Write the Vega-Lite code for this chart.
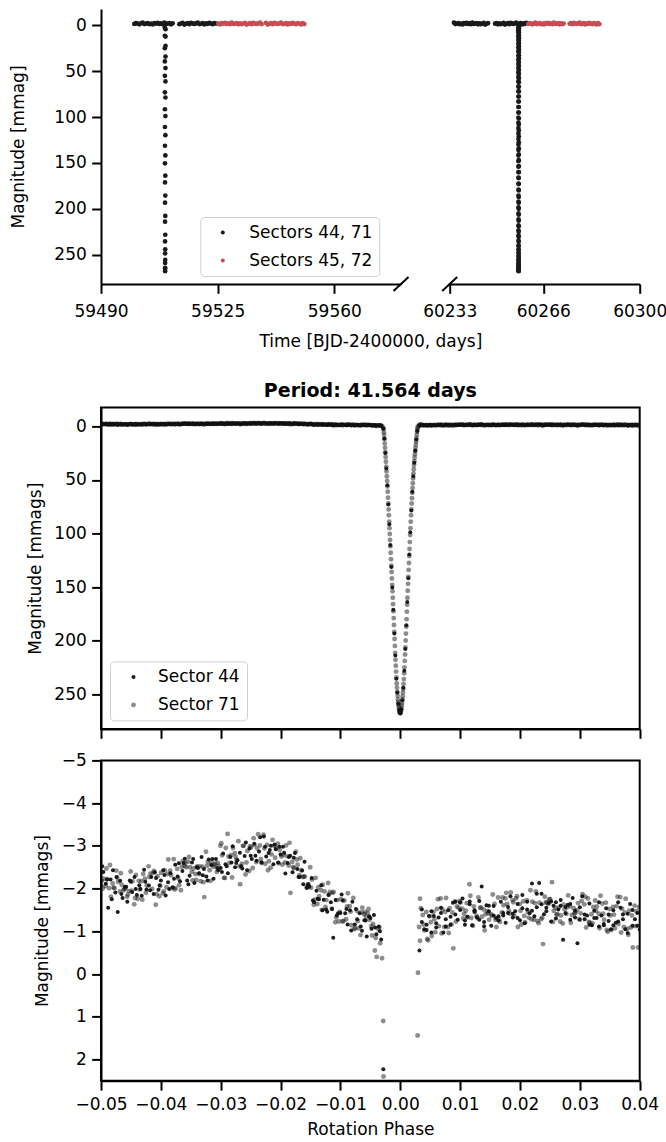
{
"$schema":"https://vega.github.io/schema/vega-lite/v6.json",
"padding":{"left":9,"top":9,"right":5,"bottom":5},
"config":{
 "font":"DejaVu Sans",
 "view":{"stroke":"black","strokeWidth":2},
 "axis":{"grid":false,"domainColor":"black","domainWidth":2,"tickColor":"black","tickWidth":2,"tickSize":9.3,"labelFontSize":17,"labelColor":"black","labelPadding":5.4,"titleFontSize":17,"titleFontWeight":"normal","titleColor":"black","labelFlush":false,"labelOverlap":false},
 "legend":{"padding":7,"rowPadding":10,"labelFontSize":17,"labelColor":"black","strokeColor":"#d0d0d0","fillColor":"rgba(255,255,255,0.8)","cornerRadius":4,"symbolType":"circle","symbolStrokeWidth":0,"labelLimit":300},
 "title":{"color":"black"}
},
"datasets":{
"lc":[
{"t":59500.0,"m":-1.6,"s":44},{"t":59500.5,"m":-2.6,"s":44},{"t":59501.0,"m":-1.9,"s":44},{"t":59501.5,"m":-1.2,"s":44},{"t":59502.0,"m":-2.3,"s":44},{"t":59502.5,"m":-3.0,"s":44},{"t":59503.0,"m":-1.5,"s":44},{"t":59503.5,"m":-1.9,"s":44},{"t":59504.0,"m":-2.4,"s":44},{"t":59504.5,"m":-1.3,"s":44},{"t":59505.0,"m":-2.1,"s":44},{"t":59505.5,"m":-1.1,"s":44},{"t":59506.0,"m":-2.6,"s":44},{"t":59506.5,"m":-1.8,"s":44},{"t":59507.0,"m":-2.8,"s":44},{"t":59507.5,"m":-1.6,"s":44},{"t":59508.0,"m":-2.2,"s":44},{"t":59508.5,"m":-1.4,"s":44},{"t":59509.0,"m":-3.1,"s":44},{"t":59509.5,"m":-1.7,"s":44},{"t":59510.0,"m":-1.9,"s":44},{"t":59510.5,"m":-2.5,"s":44},{"t":59511.0,"m":-1.2,"s":44},{"t":59511.5,"m":-2.3,"s":44},
{"t":59513.5,"m":-1.4,"s":44},{"t":59514.0,"m":-2.1,"s":44},{"t":59514.5,"m":-2.7,"s":44},{"t":59515.0,"m":-0.9,"s":44},{"t":59515.5,"m":-1.8,"s":44},{"t":59516.0,"m":-2.4,"s":44},{"t":59516.5,"m":-1.3,"s":44},{"t":59517.0,"m":-2.9,"s":44},{"t":59517.5,"m":-2.0,"s":44},{"t":59518.0,"m":-1.6,"s":44},{"t":59518.5,"m":-2.2,"s":44},{"t":59519.0,"m":-3.1,"s":44},{"t":59519.5,"m":-1.5,"s":44},{"t":59520.0,"m":-1.7,"s":44},{"t":59520.5,"m":-2.6,"s":44},{"t":59521.0,"m":-1.1,"s":44},{"t":59521.5,"m":-2.2,"s":44},{"t":59522.0,"m":-1.7,"s":44},{"t":59522.5,"m":-2.8,"s":44},{"t":59523.0,"m":-1.9,"s":44},{"t":59523.5,"m":-1.3,"s":44},{"t":59524.0,"m":-2.5,"s":44},{"t":59524.5,"m":-2.0,"s":44},
{"t":59509.132,"m":2.23,"s":44},{"t":59509.139,"m":11.3,"s":44},{"t":59509.146,"m":24.8,"s":44},{"t":59509.153,"m":39.3,"s":44},{"t":59509.160,"m":55,"s":44},{"t":59509.167,"m":73,"s":44},{"t":59509.174,"m":91.4,"s":44},{"t":59509.181,"m":110.8,"s":44},{"t":59509.188,"m":131.2,"s":44},{"t":59509.195,"m":150.4,"s":44},{"t":59509.201,"m":171.2,"s":44},{"t":59509.208,"m":193.3,"s":44},{"t":59509.215,"m":214,"s":44},{"t":59509.222,"m":235.6,"s":44},{"t":59509.229,"m":248.6,"s":44},{"t":59509.236,"m":259,"s":44},{"t":59509.243,"m":265.2,"s":44},{"t":59509.250,"m":268,"s":44},{"t":59509.257,"m":264.3,"s":44},{"t":59509.264,"m":255.7,"s":44},{"t":59509.271,"m":244.1,"s":44},{"t":59509.278,"m":228.3,"s":44},{"t":59509.285,"m":207.8,"s":44},{"t":59509.292,"m":185.6,"s":44},{"t":59509.299,"m":163.9,"s":44},{"t":59509.306,"m":141.8,"s":44},{"t":59509.312,"m":119.7,"s":44},{"t":59509.319,"m":98.9,"s":44},{"t":59509.326,"m":78.6,"s":44},{"t":59509.333,"m":61.1,"s":44},{"t":59509.340,"m":46.5,"s":44},{"t":59509.347,"m":34,"s":44},{"t":59509.354,"m":22.4,"s":44},{"t":59509.361,"m":12.2,"s":44},{"t":59509.368,"m":4.2,"s":44},
{"t":59525.2,"m":-2.1,"s":45},{"t":59525.7,"m":-1.1,"s":45},{"t":59526.2,"m":-2.6,"s":45},{"t":59526.7,"m":-1.8,"s":45},{"t":59527.2,"m":-2.8,"s":45},{"t":59527.7,"m":-1.6,"s":45},{"t":59528.2,"m":-2.2,"s":45},{"t":59528.7,"m":-1.4,"s":45},{"t":59529.2,"m":-3.1,"s":45},{"t":59529.7,"m":-1.7,"s":45},{"t":59530.2,"m":-1.9,"s":45},{"t":59530.7,"m":-2.5,"s":45},{"t":59531.2,"m":-1.2,"s":45},{"t":59531.7,"m":-2.3,"s":45},{"t":59532.2,"m":-1.4,"s":45},{"t":59532.7,"m":-2.1,"s":45},{"t":59533.2,"m":-2.7,"s":45},{"t":59533.7,"m":-0.9,"s":45},{"t":59534.2,"m":-1.8,"s":45},{"t":59534.7,"m":-2.4,"s":45},{"t":59535.2,"m":-1.3,"s":45},{"t":59535.7,"m":-2.9,"s":45},{"t":59536.2,"m":-2.0,"s":45},{"t":59536.7,"m":-1.6,"s":45},{"t":59537.2,"m":-2.2,"s":45},{"t":59537.7,"m":-3.1,"s":45},{"t":59538.2,"m":-1.5,"s":45},
{"t":59539.5,"m":-2.7,"s":45},{"t":59540.0,"m":-0.9,"s":45},{"t":59540.5,"m":-1.8,"s":45},{"t":59541.0,"m":-2.4,"s":45},{"t":59541.5,"m":-1.3,"s":45},{"t":59542.0,"m":-2.9,"s":45},{"t":59542.5,"m":-2.0,"s":45},{"t":59543.0,"m":-1.6,"s":45},{"t":59543.5,"m":-2.2,"s":45},{"t":59544.0,"m":-3.1,"s":45},{"t":59544.5,"m":-1.5,"s":45},{"t":59545.0,"m":-1.7,"s":45},{"t":59545.5,"m":-2.6,"s":45},{"t":59546.0,"m":-1.1,"s":45},{"t":59546.5,"m":-2.2,"s":45},{"t":59547.0,"m":-1.7,"s":45},{"t":59547.5,"m":-2.8,"s":45},{"t":59548.0,"m":-1.9,"s":45},{"t":59548.5,"m":-1.3,"s":45},{"t":59549.0,"m":-2.5,"s":45},{"t":59549.5,"m":-2.0,"s":45},{"t":59550.0,"m":-1.0,"s":45},{"t":59550.5,"m":-2.4,"s":45},{"t":59551.0,"m":-1.5,"s":45},
{"t":60234.5,"m":-3.0,"s":71},{"t":60235.0,"m":-1.5,"s":71},{"t":60235.5,"m":-1.9,"s":71},{"t":60236.0,"m":-2.4,"s":71},{"t":60236.5,"m":-1.3,"s":71},{"t":60237.0,"m":-2.1,"s":71},{"t":60237.5,"m":-1.1,"s":71},{"t":60238.0,"m":-2.6,"s":71},{"t":60238.5,"m":-1.8,"s":71},{"t":60239.0,"m":-2.8,"s":71},{"t":60239.5,"m":-1.6,"s":71},{"t":60240.0,"m":-2.2,"s":71},{"t":60240.5,"m":-1.4,"s":71},{"t":60241.0,"m":-3.1,"s":71},{"t":60241.5,"m":-1.7,"s":71},{"t":60242.0,"m":-1.9,"s":71},{"t":60242.5,"m":-2.5,"s":71},{"t":60243.0,"m":-1.2,"s":71},{"t":60243.5,"m":-2.3,"s":71},{"t":60244.0,"m":-1.4,"s":71},{"t":60244.5,"m":-2.1,"s":71},{"t":60245.0,"m":-2.7,"s":71},{"t":60245.5,"m":-0.9,"s":71},{"t":60246.0,"m":-1.8,"s":71},{"t":60246.5,"m":-2.4,"s":71},
{"t":60249.0,"m":-1.9,"s":71},{"t":60249.5,"m":-2.5,"s":71},{"t":60250.0,"m":-1.2,"s":71},{"t":60250.5,"m":-2.3,"s":71},{"t":60251.0,"m":-1.4,"s":71},{"t":60251.5,"m":-2.1,"s":71},{"t":60252.0,"m":-2.7,"s":71},{"t":60252.5,"m":-0.9,"s":71},{"t":60253.0,"m":-1.8,"s":71},{"t":60253.5,"m":-2.4,"s":71},{"t":60254.0,"m":-1.3,"s":71},{"t":60254.5,"m":-2.9,"s":71},{"t":60255.0,"m":-2.0,"s":71},{"t":60255.5,"m":-1.6,"s":71},{"t":60256.0,"m":-2.2,"s":71},{"t":60256.5,"m":-3.1,"s":71},{"t":60257.0,"m":-1.5,"s":71},{"t":60257.5,"m":-1.7,"s":71},{"t":60258.0,"m":-2.6,"s":71},{"t":60258.5,"m":-1.1,"s":71},{"t":60259.0,"m":-2.2,"s":71},{"t":60259.5,"m":-1.7,"s":71},{"t":60260.0,"m":-2.8,"s":71},
{"t":60257.184,"m":2.4,"s":71},{"t":60257.188,"m":8,"s":71},{"t":60257.192,"m":16,"s":71},{"t":60257.196,"m":24,"s":71},{"t":60257.200,"m":33,"s":71},{"t":60257.204,"m":42,"s":71},{"t":60257.209,"m":51,"s":71},{"t":60257.213,"m":61,"s":71},{"t":60257.217,"m":72,"s":71},{"t":60257.221,"m":83,"s":71},{"t":60257.225,"m":95,"s":71},{"t":60257.229,"m":106,"s":71},{"t":60257.233,"m":118,"s":71},{"t":60257.238,"m":130,"s":71},{"t":60257.242,"m":142,"s":71},{"t":60257.246,"m":154,"s":71},{"t":60257.250,"m":166,"s":71},{"t":60257.254,"m":179,"s":71},{"t":60257.258,"m":192,"s":71},{"t":60257.263,"m":205,"s":71},{"t":60257.267,"m":218,"s":71},{"t":60257.271,"m":229,"s":71},{"t":60257.275,"m":240,"s":71},{"t":60257.279,"m":248,"s":71},{"t":60257.283,"m":255,"s":71},{"t":60257.288,"m":260,"s":71},{"t":60257.292,"m":264,"s":71},{"t":60257.296,"m":267,"s":71},{"t":60257.300,"m":268,"s":71},{"t":60257.304,"m":266,"s":71},{"t":60257.308,"m":263,"s":71},{"t":60257.312,"m":258,"s":71},{"t":60257.317,"m":252,"s":71},{"t":60257.321,"m":245,"s":71},{"t":60257.325,"m":236,"s":71},{"t":60257.329,"m":225,"s":71},{"t":60257.333,"m":213,"s":71},{"t":60257.337,"m":200,"s":71},{"t":60257.342,"m":187,"s":71},{"t":60257.346,"m":173,"s":71},{"t":60257.350,"m":160,"s":71},{"t":60257.354,"m":147,"s":71},{"t":60257.358,"m":134,"s":71},{"t":60257.362,"m":121,"s":71},{"t":60257.367,"m":108,"s":71},{"t":60257.371,"m":95,"s":71},{"t":60257.375,"m":83,"s":71},{"t":60257.379,"m":72,"s":71},{"t":60257.383,"m":62,"s":71},{"t":60257.387,"m":53,"s":71},{"t":60257.391,"m":44,"s":71},{"t":60257.396,"m":36,"s":71},{"t":60257.400,"m":29,"s":71},{"t":60257.404,"m":23,"s":71},{"t":60257.408,"m":17,"s":71},{"t":60257.412,"m":11,"s":71},{"t":60257.416,"m":5,"s":71},{"t":60257.421,"m":1.4,"s":71},
{"t":60257.186,"m":5.3,"s":71},{"t":60257.190,"m":12,"s":71},{"t":60257.194,"m":20,"s":71},{"t":60257.198,"m":28.5,"s":71},{"t":60257.202,"m":37.5,"s":71},{"t":60257.207,"m":46.5,"s":71},{"t":60257.211,"m":56,"s":71},{"t":60257.215,"m":66.5,"s":71},{"t":60257.219,"m":77.5,"s":71},{"t":60257.223,"m":89,"s":71},{"t":60257.227,"m":100.5,"s":71},{"t":60257.231,"m":112,"s":71},{"t":60257.236,"m":124,"s":71},{"t":60257.240,"m":136,"s":71},{"t":60257.244,"m":148,"s":71},{"t":60257.248,"m":160,"s":71},{"t":60257.252,"m":172.5,"s":71},{"t":60257.256,"m":185.5,"s":71},{"t":60257.261,"m":198.5,"s":71},{"t":60257.265,"m":211.5,"s":71},{"t":60257.269,"m":223.5,"s":71},{"t":60257.273,"m":234.5,"s":71},{"t":60257.277,"m":244,"s":71},{"t":60257.281,"m":251.5,"s":71},{"t":60257.285,"m":257.5,"s":71},{"t":60257.290,"m":262,"s":71},{"t":60257.294,"m":265.5,"s":71},{"t":60257.298,"m":267.5,"s":71},
{"t":60257.302,"m":267.5,"s":71},{"t":60257.306,"m":264.5,"s":71},{"t":60257.310,"m":260.5,"s":71},{"t":60257.315,"m":255,"s":71},{"t":60257.319,"m":248.5,"s":71},{"t":60257.323,"m":240.5,"s":71},{"t":60257.327,"m":230.5,"s":71},{"t":60257.331,"m":219,"s":71},{"t":60257.335,"m":206.5,"s":71},{"t":60257.339,"m":193.5,"s":71},{"t":60257.344,"m":180,"s":71},{"t":60257.348,"m":166.5,"s":71},{"t":60257.352,"m":153.5,"s":71},{"t":60257.356,"m":140.5,"s":71},{"t":60257.360,"m":127.5,"s":71},{"t":60257.364,"m":114.5,"s":71},{"t":60257.369,"m":101.5,"s":71},{"t":60257.373,"m":89,"s":71},{"t":60257.377,"m":77.5,"s":71},{"t":60257.381,"m":67,"s":71},{"t":60257.385,"m":57.5,"s":71},{"t":60257.389,"m":48.5,"s":71},{"t":60257.394,"m":40,"s":71},{"t":60257.398,"m":32.5,"s":71},{"t":60257.402,"m":26,"s":71},{"t":60257.406,"m":20,"s":71},{"t":60257.410,"m":14,"s":71},{"t":60257.414,"m":8,"s":71},{"t":60257.418,"m":3,"s":71},
{"t":60260.7,"m":-1.6,"s":72},{"t":60261.2,"m":-2.6,"s":72},{"t":60261.7,"m":-1.9,"s":72},{"t":60262.2,"m":-1.2,"s":72},{"t":60262.7,"m":-2.3,"s":72},{"t":60263.2,"m":-3.0,"s":72},{"t":60263.7,"m":-1.5,"s":72},{"t":60264.2,"m":-1.9,"s":72},{"t":60264.7,"m":-2.4,"s":72},{"t":60265.2,"m":-1.3,"s":72},{"t":60265.7,"m":-2.1,"s":72},{"t":60266.2,"m":-1.1,"s":72},{"t":60266.7,"m":-2.6,"s":72},{"t":60267.2,"m":-1.8,"s":72},{"t":60267.7,"m":-2.8,"s":72},{"t":60268.2,"m":-1.6,"s":72},{"t":60268.7,"m":-2.2,"s":72},{"t":60269.2,"m":-1.4,"s":72},{"t":60269.7,"m":-3.1,"s":72},{"t":60270.2,"m":-1.7,"s":72},{"t":60270.7,"m":-1.9,"s":72},{"t":60271.2,"m":-2.5,"s":72},{"t":60271.7,"m":-1.2,"s":72},{"t":60272.2,"m":-2.3,"s":72},{"t":60272.7,"m":-1.4,"s":72},{"t":60273.2,"m":-2.1,"s":72},
{"t":60275.3,"m":-1.8,"s":72},{"t":60275.8,"m":-2.4,"s":72},{"t":60276.3,"m":-1.3,"s":72},{"t":60276.8,"m":-2.9,"s":72},{"t":60277.3,"m":-2.0,"s":72},{"t":60277.8,"m":-1.6,"s":72},{"t":60278.3,"m":-2.2,"s":72},{"t":60278.8,"m":-3.1,"s":72},{"t":60279.3,"m":-1.5,"s":72},{"t":60279.8,"m":-1.7,"s":72},{"t":60280.3,"m":-2.6,"s":72},{"t":60280.8,"m":-1.1,"s":72},{"t":60281.3,"m":-2.2,"s":72},{"t":60281.8,"m":-1.7,"s":72},{"t":60282.3,"m":-2.8,"s":72},{"t":60282.8,"m":-1.9,"s":72},{"t":60283.3,"m":-1.3,"s":72},{"t":60283.8,"m":-2.5,"s":72},{"t":60284.3,"m":-2.0,"s":72},{"t":60284.8,"m":-1.0,"s":72},{"t":60285.3,"m":-2.4,"s":72},{"t":60285.8,"m":-1.5,"s":72}
],
"ph":[
{"p":-0.04985,"m":-2.18,"s":71},{"p":-0.04955,"m":-2.23,"s":71},{"p":-0.04925,"m":-2.06,"s":71},{"p":-0.04895,"m":-2.22,"s":71},{"p":-0.04865,"m":-2.01,"s":71},{"p":-0.04835,"m":-1.81,"s":71},{"p":-0.04805,"m":-2.12,"s":71},{"p":-0.04775,"m":-2.01,"s":71},{"p":-0.04745,"m":-2.42,"s":71},{"p":-0.04715,"m":-2.16,"s":71},{"p":-0.04685,"m":-1.93,"s":71},{"p":-0.04655,"m":-2.09,"s":71},{"p":-0.04625,"m":-1.96,"s":71},{"p":-0.04595,"m":-2.01,"s":71},{"p":-0.04565,"m":-1.81,"s":71},{"p":-0.04535,"m":-1.94,"s":71},{"p":-0.04505,"m":-2.40,"s":71},{"p":-0.04475,"m":-2.17,"s":71},{"p":-0.04445,"m":-1.63,"s":71},{"p":-0.04415,"m":-2.32,"s":71},{"p":-0.04385,"m":-1.76,"s":71},{"p":-0.04355,"m":-1.98,"s":71},{"p":-0.04325,"m":-2.17,"s":71},{"p":-0.04295,"m":-2.34,"s":71},{"p":-0.04265,"m":-2.23,"s":71},{"p":-0.04235,"m":-2.07,"s":71},{"p":-0.04205,"m":-2.52,"s":71},{"p":-0.04175,"m":-2.35,"s":71},{"p":-0.04145,"m":-1.99,"s":71},{"p":-0.04115,"m":-2.41,"s":71},{"p":-0.04085,"m":-1.62,"s":71},{"p":-0.04055,"m":-2.29,"s":71},{"p":-0.04025,"m":-1.82,"s":71},{"p":-0.03995,"m":-2.37,"s":71},{"p":-0.03965,"m":-1.89,"s":71},{"p":-0.03935,"m":-2.43,"s":71},{"p":-0.03905,"m":-2.03,"s":71},{"p":-0.03875,"m":-2.68,"s":71},{"p":-0.03845,"m":-2.42,"s":71},{"p":-0.03815,"m":-2.01,"s":71},{"p":-0.03785,"m":-2.69,"s":71},{"p":-0.03755,"m":-2.01,"s":71},{"p":-0.03725,"m":-2.46,"s":71},{"p":-0.03695,"m":-2.08,"s":71},{"p":-0.03665,"m":-1.96,"s":71},{"p":-0.03635,"m":-2.64,"s":71},{"p":-0.03605,"m":-2.53,"s":71},{"p":-0.03575,"m":-2.50,"s":71},{"p":-0.03545,"m":-2.63,"s":71},{"p":-0.03515,"m":-2.50,"s":71},
{"p":-0.03485,"m":-2.39,"s":71},{"p":-0.03455,"m":-2.47,"s":71},{"p":-0.03425,"m":-2.34,"s":71},{"p":-0.03395,"m":-2.52,"s":71},{"p":-0.03365,"m":-2.34,"s":71},{"p":-0.03335,"m":-2.17,"s":71},{"p":-0.03305,"m":-2.51,"s":71},{"p":-0.03275,"m":-1.80,"s":71},{"p":-0.03245,"m":-2.86,"s":71},{"p":-0.03215,"m":-2.62,"s":71},{"p":-0.03185,"m":-2.43,"s":71},{"p":-0.03155,"m":-2.61,"s":71},{"p":-0.03125,"m":-2.51,"s":71},{"p":-0.03095,"m":-2.58,"s":71},{"p":-0.03065,"m":-2.39,"s":71},{"p":-0.03035,"m":-2.53,"s":71},{"p":-0.03005,"m":-3.00,"s":71},{"p":-0.02975,"m":-2.78,"s":71},{"p":-0.02945,"m":-2.25,"s":71},{"p":-0.02915,"m":-2.95,"s":71},{"p":-0.02885,"m":-3.28,"s":71},{"p":-0.02855,"m":-2.60,"s":71},{"p":-0.02825,"m":-2.78,"s":71},{"p":-0.02795,"m":-2.95,"s":71},{"p":-0.02765,"m":-2.83,"s":71},{"p":-0.02735,"m":-2.67,"s":71},{"p":-0.02705,"m":-3.11,"s":71},{"p":-0.02675,"m":-2.10,"s":71},{"p":-0.02645,"m":-2.58,"s":71},{"p":-0.02615,"m":-3.00,"s":71},{"p":-0.02585,"m":-2.33,"s":71},{"p":-0.02555,"m":-2.88,"s":71},{"p":-0.02525,"m":-2.41,"s":71},{"p":-0.02495,"m":-2.96,"s":71},{"p":-0.02465,"m":-2.48,"s":71},{"p":-0.02435,"m":-3.02,"s":71},{"p":-0.02405,"m":-2.62,"s":71},{"p":-0.02375,"m":-3.27,"s":71},{"p":-0.02345,"m":-3.01,"s":71},{"p":-0.02315,"m":-2.60,"s":71},{"p":-0.02285,"m":-3.26,"s":71},{"p":-0.02255,"m":-2.58,"s":71},{"p":-0.02225,"m":-3.02,"s":71},{"p":-0.02195,"m":-2.64,"s":71},{"p":-0.02165,"m":-2.49,"s":71},{"p":-0.02135,"m":-3.14,"s":71},{"p":-0.02105,"m":-3.00,"s":71},{"p":-0.02075,"m":-2.95,"s":71},{"p":-0.02045,"m":-3.05,"s":71},{"p":-0.02015,"m":-2.90,"s":71},
{"p":-0.01985,"m":-2.75,"s":71},{"p":-0.01955,"m":-2.79,"s":71},{"p":-0.01925,"m":-2.61,"s":71},{"p":-0.01895,"m":-2.76,"s":71},{"p":-0.01865,"m":-2.54,"s":71},{"p":-0.01835,"m":-1.90,"s":71},{"p":-0.01805,"m":-2.62,"s":71},{"p":-0.01775,"m":-2.48,"s":71},{"p":-0.01745,"m":-2.86,"s":71},{"p":-0.01715,"m":-2.56,"s":71},{"p":-0.01685,"m":-2.31,"s":71},{"p":-0.01655,"m":-2.43,"s":71},{"p":-0.01625,"m":-2.27,"s":71},{"p":-0.01595,"m":-2.28,"s":71},{"p":-0.01565,"m":-2.02,"s":71},{"p":-0.01535,"m":-2.10,"s":71},{"p":-0.01505,"m":-2.50,"s":71},{"p":-0.01475,"m":-2.21,"s":71},{"p":-0.01445,"m":-1.62,"s":71},{"p":-0.01415,"m":-2.25,"s":71},{"p":-0.01385,"m":-1.64,"s":71},{"p":-0.01355,"m":-1.82,"s":71},{"p":-0.01325,"m":-1.96,"s":71},{"p":-0.01295,"m":-2.09,"s":71},{"p":-0.01265,"m":-1.93,"s":71},{"p":-0.01235,"m":-1.73,"s":71},{"p":-0.01205,"m":-2.13,"s":71},{"p":-0.01175,"m":-1.92,"s":71},{"p":-0.01145,"m":-1.53,"s":71},{"p":-0.01115,"m":-1.92,"s":71},{"p":-0.01085,"m":-1.21,"s":71},{"p":-0.01055,"m":-1.73,"s":71},{"p":-0.01025,"m":-1.23,"s":71},{"p":-0.00995,"m":-1.75,"s":71},{"p":-0.00965,"m":-1.23,"s":71},{"p":-0.00935,"m":-1.72,"s":71},{"p":-0.00905,"m":-1.28,"s":71},{"p":-0.00875,"m":-1.89,"s":71},{"p":-0.00845,"m":-1.59,"s":71},{"p":-0.00815,"m":-1.14,"s":71},{"p":-0.00785,"m":-1.78,"s":71},{"p":-0.00755,"m":-1.07,"s":71},{"p":-0.00725,"m":-1.48,"s":71},{"p":-0.00695,"m":-1.07,"s":71},{"p":-0.00665,"m":-0.91,"s":71},{"p":-0.00635,"m":-1.55,"s":71},{"p":-0.00605,"m":-1.40,"s":71},{"p":-0.00575,"m":-1.34,"s":71},{"p":-0.00545,"m":-1.43,"s":71},{"p":-0.00515,"m":-1.27,"s":71},{"p":-0.00485,"m":-1.12,"s":71},{"p":-0.00455,"m":-1.17,"s":71},{"p":-0.00425,"m":-0.55,"s":71},{"p":-0.00395,"m":-0.40,"s":71},{"p":-0.00365,"m":-1.05,"s":71},{"p":-0.00335,"m":-0.72,"s":71},{"p":-0.00305,"m":-0.37,"s":71},
{"p":-0.0497,"m":-2.00,"s":71},{"p":-0.0491,"m":-2.47,"s":71},{"p":-0.0485,"m":-2.55,"s":71},{"p":-0.0479,"m":-2.02,"s":71},{"p":-0.0473,"m":-2.26,"s":71},{"p":-0.0467,"m":-2.36,"s":71},{"p":-0.0461,"m":-1.99,"s":71},{"p":-0.0455,"m":-1.86,"s":71},{"p":-0.0449,"m":-1.95,"s":71},{"p":-0.0443,"m":-1.78,"s":71},{"p":-0.0437,"m":-2.18,"s":71},{"p":-0.0431,"m":-1.74,"s":71},{"p":-0.0425,"m":-1.90,"s":71},{"p":-0.0419,"m":-2.27,"s":71},{"p":-0.0413,"m":-2.37,"s":71},{"p":-0.0407,"m":-1.87,"s":71},{"p":-0.0401,"m":-2.06,"s":71},{"p":-0.0395,"m":-1.93,"s":71},{"p":-0.0389,"m":-2.34,"s":71},{"p":-0.0383,"m":-2.31,"s":71},{"p":-0.0377,"m":-1.98,"s":71},{"p":-0.0371,"m":-2.24,"s":71},{"p":-0.0365,"m":-2.51,"s":71},{"p":-0.0359,"m":-2.60,"s":71},{"p":-0.0353,"m":-2.74,"s":71},{"p":-0.0347,"m":-2.19,"s":71},{"p":-0.0341,"m":-2.20,"s":71},{"p":-0.0335,"m":-2.52,"s":71},{"p":-0.0329,"m":-2.15,"s":71},{"p":-0.0323,"m":-2.53,"s":71},{"p":-0.0317,"m":-2.18,"s":71},{"p":-0.0311,"m":-2.55,"s":71},{"p":-0.0305,"m":-2.60,"s":71},{"p":-0.0299,"m":-3.06,"s":71},{"p":-0.0293,"m":-2.25,"s":71},{"p":-0.0287,"m":-2.75,"s":71},{"p":-0.0281,"m":-2.26,"s":71},{"p":-0.0275,"m":-2.74,"s":71},{"p":-0.0269,"m":-2.52,"s":71},{"p":-0.0263,"m":-3.00,"s":71},{"p":-0.0257,"m":-2.61,"s":71},{"p":-0.0251,"m":-2.99,"s":71},{"p":-0.0245,"m":-3.18,"s":71},{"p":-0.0239,"m":-2.94,"s":71},{"p":-0.0233,"m":-2.69,"s":71},{"p":-0.0227,"m":-2.94,"s":71},{"p":-0.0221,"m":-2.43,"s":71},{"p":-0.0215,"m":-2.80,"s":71},{"p":-0.0209,"m":-2.72,"s":71},{"p":-0.0203,"m":-2.59,"s":71},
{"p":-0.0197,"m":-2.56,"s":71},{"p":-0.0191,"m":-3.01,"s":71},{"p":-0.0185,"m":-3.07,"s":71},{"p":-0.0179,"m":-2.50,"s":71},{"p":-0.0173,"m":-2.68,"s":71},{"p":-0.0167,"m":-2.71,"s":71},{"p":-0.0161,"m":-2.28,"s":71},{"p":-0.0155,"m":-2.05,"s":71},{"p":-0.0149,"m":-2.02,"s":71},{"p":-0.0143,"m":-1.74,"s":71},{"p":-0.0137,"m":-2.03,"s":71},{"p":-0.0131,"m":-1.50,"s":71},{"p":-0.0125,"m":-1.57,"s":71},{"p":-0.0119,"m":-1.86,"s":71},{"p":-0.0113,"m":-1.90,"s":71},{"p":-0.0107,"m":-1.32,"s":71},{"p":-0.0101,"m":-1.45,"s":71},{"p":-0.0095,"m":-1.24,"s":71},{"p":-0.0089,"m":-1.58,"s":71},{"p":-0.0083,"m":-1.46,"s":71},{"p":-0.0077,"m":-1.05,"s":71},{"p":-0.0071,"m":-1.24,"s":71},{"p":-0.0065,"m":-1.44,"s":71},{"p":-0.0059,"m":-1.45,"s":71},{"p":-0.0053,"m":-1.52,"s":71},{"p":-0.0047,"m":-0.90,"s":71},{"p":-0.0041,"m":-0.84,"s":71},{"p":-0.0035,"m":-1.09,"s":71},
{"p":-0.00285,"m":1.1,"s":71},{"p":-0.0028,"m":2.4,"s":71},{"p":-0.00275,"m":5.3,"s":71},{"p":-0.0027,"m":8,"s":71},{"p":-0.00265,"m":12,"s":71},{"p":-0.0026,"m":16,"s":71},{"p":-0.00255,"m":20,"s":71},{"p":-0.0025,"m":24,"s":71},{"p":-0.00245,"m":28.5,"s":71},{"p":-0.0024,"m":33,"s":71},{"p":-0.00235,"m":37.5,"s":71},{"p":-0.0023,"m":42,"s":71},{"p":-0.00225,"m":46.5,"s":71},{"p":-0.0022,"m":51,"s":71},{"p":-0.00215,"m":56,"s":71},{"p":-0.0021,"m":61,"s":71},{"p":-0.00205,"m":66.5,"s":71},{"p":-0.002,"m":72,"s":71},{"p":-0.00195,"m":77.5,"s":71},{"p":-0.0019,"m":83,"s":71},{"p":-0.00185,"m":89,"s":71},{"p":-0.0018,"m":95,"s":71},{"p":-0.00175,"m":100.5,"s":71},{"p":-0.0017,"m":106,"s":71},{"p":-0.00165,"m":112,"s":71},{"p":-0.0016,"m":118,"s":71},{"p":-0.00155,"m":124,"s":71},{"p":-0.0015,"m":130,"s":71},{"p":-0.00145,"m":136,"s":71},{"p":-0.0014,"m":142,"s":71},{"p":-0.00135,"m":148,"s":71},{"p":-0.0013,"m":154,"s":71},{"p":-0.00125,"m":160,"s":71},{"p":-0.0012,"m":166,"s":71},{"p":-0.00115,"m":172.5,"s":71},{"p":-0.0011,"m":179,"s":71},{"p":-0.00105,"m":185.5,"s":71},{"p":-0.001,"m":192,"s":71},{"p":-0.00095,"m":198.5,"s":71},{"p":-0.0009,"m":205,"s":71},{"p":-0.00085,"m":211.5,"s":71},{"p":-0.0008,"m":218,"s":71},{"p":-0.00075,"m":223.5,"s":71},{"p":-0.0007,"m":229,"s":71},{"p":-0.00065,"m":234.5,"s":71},{"p":-0.0006,"m":240,"s":71},{"p":-0.00055,"m":244,"s":71},{"p":-0.0005,"m":248,"s":71},{"p":-0.00045,"m":251.5,"s":71},{"p":-0.0004,"m":255,"s":71},{"p":-0.00035,"m":257.5,"s":71},{"p":-0.0003,"m":260,"s":71},{"p":-0.00025,"m":262,"s":71},{"p":-0.0002,"m":264,"s":71},{"p":-0.00015,"m":265.5,"s":71},{"p":-0.0001,"m":267,"s":71},{"p":-0.00005,"m":267.5,"s":71},{"p":0,"m":268,"s":71},
{"p":0.00005,"m":267.5,"s":71},{"p":0.0001,"m":266,"s":71},{"p":0.00015,"m":264.5,"s":71},{"p":0.0002,"m":263,"s":71},{"p":0.00025,"m":260.5,"s":71},{"p":0.0003,"m":258,"s":71},{"p":0.00035,"m":255,"s":71},{"p":0.0004,"m":252,"s":71},{"p":0.00045,"m":248.5,"s":71},{"p":0.0005,"m":245,"s":71},{"p":0.00055,"m":240.5,"s":71},{"p":0.0006,"m":236,"s":71},{"p":0.00065,"m":230.5,"s":71},{"p":0.0007,"m":225,"s":71},{"p":0.00075,"m":219,"s":71},{"p":0.0008,"m":213,"s":71},{"p":0.00085,"m":206.5,"s":71},{"p":0.0009,"m":200,"s":71},{"p":0.00095,"m":193.5,"s":71},{"p":0.001,"m":187,"s":71},{"p":0.00105,"m":180,"s":71},{"p":0.0011,"m":173,"s":71},{"p":0.00115,"m":166.5,"s":71},{"p":0.0012,"m":160,"s":71},{"p":0.00125,"m":153.5,"s":71},{"p":0.0013,"m":147,"s":71},{"p":0.00135,"m":140.5,"s":71},{"p":0.0014,"m":134,"s":71},{"p":0.00145,"m":127.5,"s":71},{"p":0.0015,"m":121,"s":71},{"p":0.00155,"m":114.5,"s":71},{"p":0.0016,"m":108,"s":71},{"p":0.00165,"m":101.5,"s":71},{"p":0.0017,"m":95,"s":71},{"p":0.00175,"m":89,"s":71},{"p":0.0018,"m":83,"s":71},{"p":0.00185,"m":77.5,"s":71},{"p":0.0019,"m":72,"s":71},{"p":0.00195,"m":67,"s":71},{"p":0.002,"m":62,"s":71},{"p":0.00205,"m":57.5,"s":71},{"p":0.0021,"m":53,"s":71},{"p":0.00215,"m":48.5,"s":71},{"p":0.0022,"m":44,"s":71},{"p":0.00225,"m":40,"s":71},{"p":0.0023,"m":36,"s":71},{"p":0.00235,"m":32.5,"s":71},{"p":0.0024,"m":29,"s":71},{"p":0.00245,"m":26,"s":71},{"p":0.0025,"m":23,"s":71},{"p":0.00255,"m":20,"s":71},{"p":0.0026,"m":17,"s":71},{"p":0.00265,"m":14,"s":71},{"p":0.0027,"m":11,"s":71},{"p":0.00275,"m":8,"s":71},{"p":0.0028,"m":5,"s":71},{"p":0.00285,"m":3,"s":71},{"p":0.0029,"m":1.44,"s":71},{"p":0.00295,"m":-0.03,"s":71},
{"p":0.00315,"m":-1.10,"s":71},{"p":0.0033,"m":-1.76,"s":71},{"p":0.00345,"m":-1.54,"s":71},{"p":0.00375,"m":-1.38,"s":71},{"p":0.00405,"m":-1.02,"s":71},{"p":0.00435,"m":-1.45,"s":71},{"p":0.00465,"m":-0.79,"s":71},{"p":0.00495,"m":-1.35,"s":71},{"p":0.00525,"m":-0.89,"s":71},{"p":0.00555,"m":-1.45,"s":71},{"p":0.00585,"m":-0.98,"s":71},{"p":0.00615,"m":-1.52,"s":71},{"p":0.00645,"m":-1.12,"s":71},{"p":0.00675,"m":-1.77,"s":71},{"p":0.00705,"m":-1.51,"s":71},{"p":0.00735,"m":-1.10,"s":71},{"p":0.00765,"m":-1.78,"s":71},{"p":0.00795,"m":-1.10,"s":71},{"p":0.00825,"m":-1.54,"s":71},{"p":0.00855,"m":-1.16,"s":71},{"p":0.00885,"m":-0.60,"s":71},{"p":0.00915,"m":-1.70,"s":71},{"p":0.00945,"m":-1.58,"s":71},{"p":0.00975,"m":-1.55,"s":71},{"p":0.01005,"m":-1.67,"s":71},{"p":0.01035,"m":-1.53,"s":71},{"p":0.01065,"m":-1.41,"s":71},{"p":0.01095,"m":-1.48,"s":71},{"p":0.01125,"m":-1.33,"s":71},{"p":0.01155,"m":-2.10,"s":71},{"p":0.01185,"m":-1.31,"s":71},{"p":0.01215,"m":-1.13,"s":71},{"p":0.01245,"m":-1.46,"s":71},{"p":0.01275,"m":-1.36,"s":71},{"p":0.01305,"m":-1.79,"s":71},{"p":0.01335,"m":-1.55,"s":71},{"p":0.01365,"m":-1.34,"s":71},{"p":0.01395,"m":-1.51,"s":71},{"p":0.01425,"m":-1.40,"s":71},{"p":0.01455,"m":-1.47,"s":71},{"p":0.01485,"m":-1.27,"s":71},{"p":0.01515,"m":-1.40,"s":71},{"p":0.01545,"m":-1.86,"s":71},{"p":0.01575,"m":-1.64,"s":71},{"p":0.01605,"m":-1.10,"s":71},{"p":0.01635,"m":-1.79,"s":71},{"p":0.01665,"m":-1.22,"s":71},{"p":0.01695,"m":-1.44,"s":71},{"p":0.01725,"m":-1.61,"s":71},{"p":0.01755,"m":-1.77,"s":71},{"p":0.01785,"m":-1.64,"s":71},
{"p":0.01815,"m":-1.48,"s":71},{"p":0.01845,"m":-1.91,"s":71},{"p":0.01875,"m":-1.73,"s":71},{"p":0.01905,"m":-1.36,"s":71},{"p":0.01935,"m":-1.77,"s":71},{"p":0.01965,"m":-1.10,"s":71},{"p":0.01995,"m":-1.64,"s":71},{"p":0.02025,"m":-1.16,"s":71},{"p":0.02055,"m":-1.70,"s":71},{"p":0.02085,"m":-1.21,"s":71},{"p":0.02115,"m":-1.73,"s":71},{"p":0.02145,"m":-1.32,"s":71},{"p":0.02175,"m":-1.96,"s":71},{"p":0.02205,"m":-1.69,"s":71},{"p":0.02235,"m":-1.27,"s":71},{"p":0.02265,"m":-1.93,"s":71},{"p":0.02295,"m":-1.24,"s":71},{"p":0.02325,"m":-1.67,"s":71},{"p":0.02355,"m":-1.28,"s":71},{"p":0.02385,"m":-0.70,"s":71},{"p":0.02415,"m":-1.81,"s":71},{"p":0.02445,"m":-1.68,"s":71},{"p":0.02475,"m":-1.64,"s":71},{"p":0.02505,"m":-1.75,"s":71},{"p":0.02535,"m":-2.15,"s":71},{"p":0.02565,"m":-1.48,"s":71},{"p":0.02595,"m":-1.55,"s":71},{"p":0.02625,"m":-1.40,"s":71},{"p":0.02655,"m":-1.56,"s":71},{"p":0.02685,"m":-1.37,"s":71},{"p":0.02715,"m":-1.18,"s":71},{"p":0.02745,"m":-1.51,"s":71},{"p":0.02775,"m":-1.41,"s":71},{"p":0.02805,"m":-1.84,"s":71},{"p":0.02835,"m":-1.59,"s":71},{"p":0.02865,"m":-1.38,"s":71},{"p":0.02895,"m":-1.54,"s":71},{"p":0.02925,"m":-1.43,"s":71},{"p":0.02955,"m":-1.49,"s":71},{"p":0.02985,"m":-1.29,"s":71},{"p":0.03015,"m":-1.42,"s":71},{"p":0.03045,"m":-1.87,"s":71},{"p":0.03075,"m":-1.63,"s":71},{"p":0.03105,"m":-1.09,"s":71},{"p":0.03135,"m":-1.77,"s":71},{"p":0.03165,"m":-1.20,"s":71},{"p":0.03195,"m":-1.40,"s":71},{"p":0.03225,"m":-1.57,"s":71},{"p":0.03255,"m":-1.72,"s":71},{"p":0.03285,"m":-1.58,"s":71},{"p":0.03315,"m":-1.41,"s":71},{"p":0.03345,"m":-1.83,"s":71},{"p":0.03375,"m":-1.65,"s":71},{"p":0.03405,"m":-1.27,"s":71},{"p":0.03435,"m":-1.67,"s":71},{"p":0.03465,"m":-0.99,"s":71},{"p":0.03495,"m":-1.52,"s":71},{"p":0.03525,"m":-1.03,"s":71},{"p":0.03555,"m":-1.57,"s":71},{"p":0.03585,"m":-1.07,"s":71},{"p":0.03615,"m":-1.59,"s":71},{"p":0.03645,"m":-1.17,"s":71},{"p":0.03675,"m":-1.80,"s":71},{"p":0.03705,"m":-1.53,"s":71},{"p":0.03735,"m":-1.10,"s":71},{"p":0.03765,"m":-1.76,"s":71},{"p":0.03795,"m":-1.06,"s":71},{"p":0.03825,"m":-1.48,"s":71},{"p":0.03855,"m":-1.09,"s":71},{"p":0.03885,"m":-0.62,"s":71},{"p":0.03915,"m":-1.60,"s":71},{"p":0.03945,"m":-1.47,"s":71},{"p":0.03975,"m":-0.62,"s":71},
{"p":0.0033,"m":-0.78,"s":71},{"p":0.0039,"m":-1.16,"s":71},{"p":0.0045,"m":-0.82,"s":71},{"p":0.0051,"m":-1.21,"s":71},{"p":0.0057,"m":-1.28,"s":71},{"p":0.0063,"m":-1.75,"s":71},{"p":0.0069,"m":-0.95,"s":71},{"p":0.0075,"m":-1.45,"s":71},{"p":0.0081,"m":-0.96,"s":71},{"p":0.0087,"m":-1.44,"s":71},{"p":0.0093,"m":-1.23,"s":71},{"p":0.0099,"m":-1.71,"s":71},{"p":0.0105,"m":-1.30,"s":71},{"p":0.0111,"m":-1.66,"s":71},{"p":0.0117,"m":-1.83,"s":71},{"p":0.0123,"m":-1.58,"s":71},{"p":0.0129,"m":-1.31,"s":71},{"p":0.0135,"m":-1.55,"s":71},{"p":0.0141,"m":-1.02,"s":71},{"p":0.0147,"m":-1.42,"s":71},{"p":0.0153,"m":-1.36,"s":71},{"p":0.0159,"m":-1.27,"s":71},{"p":0.0165,"m":-1.28,"s":71},{"p":0.0171,"m":-1.79,"s":71},{"p":0.0177,"m":-1.90,"s":71},{"p":0.0183,"m":-1.41,"s":71},{"p":0.0189,"m":-1.68,"s":71},{"p":0.0195,"m":-1.82,"s":71},{"p":0.0201,"m":-1.48,"s":71},{"p":0.0207,"m":-1.36,"s":71},{"p":0.0213,"m":-1.45,"s":71},{"p":0.0219,"m":-1.28,"s":71},{"p":0.0225,"m":-1.66,"s":71},{"p":0.0231,"m":-1.19,"s":71},{"p":0.0237,"m":-1.32,"s":71},{"p":0.0243,"m":-1.67,"s":71},{"p":0.0249,"m":-1.75,"s":71},{"p":0.0255,"m":-1.22,"s":71},{"p":0.0261,"m":-1.39,"s":71},{"p":0.0267,"m":-1.23,"s":71},{"p":0.0273,"m":-1.62,"s":71},{"p":0.0279,"m":-1.56,"s":71},{"p":0.0285,"m":-1.20,"s":71},{"p":0.0291,"m":-1.42,"s":71},{"p":0.0297,"m":-1.66,"s":71},{"p":0.0303,"m":-1.71,"s":71},{"p":0.0309,"m":-1.81,"s":71},{"p":0.0315,"m":-1.22,"s":71},{"p":0.0321,"m":-1.19,"s":71},{"p":0.0327,"m":-1.48,"s":71},{"p":0.0333,"m":-1.07,"s":71},{"p":0.0339,"m":-1.41,"s":71},{"p":0.0345,"m":-1.03,"s":71},{"p":0.0351,"m":-1.37,"s":71},{"p":0.0357,"m":-1.39,"s":71},{"p":0.0363,"m":-1.81,"s":71},{"p":0.0369,"m":-0.97,"s":71},{"p":0.0375,"m":-1.44,"s":71},{"p":0.0381,"m":-0.92,"s":71},{"p":0.0387,"m":-1.37,"s":71},{"p":0.0393,"m":-1.12,"s":71},{"p":0.0399,"m":-1.57,"s":71},
{"p":-0.05,"m":-2.08,"s":44},{"p":-0.0496,"m":-2.39,"s":44},{"p":-0.0492,"m":-2.11,"s":44},{"p":-0.0488,"m":-1.55,"s":44},{"p":-0.0484,"m":-2.21,"s":44},{"p":-0.048,"m":-2.43,"s":44},{"p":-0.0476,"m":-1.91,"s":44},{"p":-0.0472,"m":-1.45,"s":44},{"p":-0.0468,"m":-2.18,"s":44},{"p":-0.0464,"m":-1.78,"s":44},{"p":-0.046,"m":-2.04,"s":44},{"p":-0.0456,"m":-1.69,"s":44},{"p":-0.0452,"m":-2.19,"s":44},{"p":-0.0448,"m":-1.92,"s":44},{"p":-0.0444,"m":-2.27,"s":44},{"p":-0.044,"m":-1.85,"s":44},{"p":-0.0436,"m":-2.08,"s":44},{"p":-0.0432,"m":-1.83,"s":44},{"p":-0.0428,"m":-2.44,"s":44},{"p":-0.0424,"m":-1.98,"s":44},{"p":-0.042,"m":-2.07,"s":44},{"p":-0.0416,"m":-2.27,"s":44},{"p":-0.0412,"m":-1.87,"s":44},{"p":-0.0408,"m":-2.25,"s":44},{"p":-0.0404,"m":-1.97,"s":44},{"p":-0.04,"m":-2.19,"s":44},{"p":-0.0396,"m":-2.43,"s":44},{"p":-0.0392,"m":-1.84,"s":44},{"p":-0.0388,"m":-2.15,"s":44},{"p":-0.0384,"m":-2.36,"s":44},{"p":-0.038,"m":-2.03,"s":44},{"p":-0.0376,"m":-2.56,"s":44},{"p":-0.0372,"m":-2.28,"s":44},{"p":-0.0368,"m":-2.17,"s":44},{"p":-0.0364,"m":-2.41,"s":44},{"p":-0.036,"m":-2.70,"s":44},{"p":-0.0356,"m":-2.19,"s":44},{"p":-0.0352,"m":-2.30,"s":44},{"p":-0.0348,"m":-2.61,"s":44},{"p":-0.0344,"m":-2.13,"s":44},{"p":-0.034,"m":-2.50,"s":44},{"p":-0.0336,"m":-2.36,"s":44},{"p":-0.0332,"m":-2.74,"s":44},{"p":-0.0328,"m":-2.46,"s":44},{"p":-0.0324,"m":-2.28,"s":44},{"p":-0.032,"m":-2.68,"s":44},{"p":-0.0316,"m":-2.55,"s":44},{"p":-0.0312,"m":-2.23,"s":44},{"p":-0.0308,"m":-2.69,"s":44},{"p":-0.0304,"m":-2.43,"s":44},
{"p":-0.03,"m":-2.48,"s":44},{"p":-0.0296,"m":-2.82,"s":44},{"p":-0.0292,"m":-2.57,"s":44},{"p":-0.0288,"m":-2.36,"s":44},{"p":-0.0284,"m":-2.74,"s":44},{"p":-0.028,"m":-2.99,"s":44},{"p":-0.0276,"m":-2.50,"s":44},{"p":-0.0272,"m":-2.66,"s":44},{"p":-0.0268,"m":-2.84,"s":44},{"p":-0.0264,"m":-2.47,"s":44},{"p":-0.026,"m":-2.76,"s":44},{"p":-0.0256,"m":-2.43,"s":44},{"p":-0.0252,"m":-2.94,"s":44},{"p":-0.0248,"m":-2.69,"s":44},{"p":-0.0244,"m":-3.05,"s":44},{"p":-0.024,"m":-2.65,"s":44},{"p":-0.0236,"m":-2.87,"s":44},{"p":-0.0232,"m":-2.61,"s":44},{"p":-0.0228,"m":-3.22,"s":44},{"p":-0.0224,"m":-2.75,"s":44},{"p":-0.022,"m":-2.83,"s":44},{"p":-0.0216,"m":-3.00,"s":44},{"p":-0.0212,"m":-2.57,"s":44},{"p":-0.0208,"m":-2.92,"s":44},{"p":-0.0204,"m":-2.61,"s":44},{"p":-0.02,"m":-2.80,"s":44},{"p":-0.0196,"m":-2.98,"s":44},{"p":-0.0192,"m":-2.35,"s":44},{"p":-0.0188,"m":-2.60,"s":44},{"p":-0.0184,"m":-2.77,"s":44},{"p":-0.018,"m":-2.38,"s":44},{"p":-0.0176,"m":-2.83,"s":44},{"p":-0.0172,"m":-2.46,"s":44},{"p":-0.0168,"m":-2.27,"s":44},{"p":-0.0164,"m":-2.42,"s":44},{"p":-0.016,"m":-2.63,"s":44},{"p":-0.0156,"m":-2.02,"s":44},{"p":-0.0152,"m":-2.04,"s":44},{"p":-0.0148,"m":-2.25,"s":44},{"p":-0.0144,"m":-1.68,"s":44},{"p":-0.014,"m":-1.95,"s":44},{"p":-0.0136,"m":-1.75,"s":44},{"p":-0.0132,"m":-2.08,"s":44},{"p":-0.0128,"m":-1.74,"s":44},{"p":-0.0124,"m":-1.51,"s":44},{"p":-0.012,"m":-1.85,"s":44},{"p":-0.0116,"m":-1.68,"s":44},{"p":-0.0112,"m":-0.85,"s":44},{"p":-0.0108,"m":-1.73,"s":44},{"p":-0.0104,"m":-1.42,"s":44},
{"p":-0.01,"m":-1.43,"s":44},{"p":-0.0096,"m":-1.72,"s":44},{"p":-0.0092,"m":-1.42,"s":44},{"p":-0.0088,"m":-1.16,"s":44},{"p":-0.0084,"m":-1.49,"s":44},{"p":-0.008,"m":-1.69,"s":44},{"p":-0.0076,"m":-1.16,"s":44},{"p":-0.0072,"m":-1.28,"s":44},{"p":-0.0068,"m":-1.42,"s":44},{"p":-0.0064,"m":-1.01,"s":44},{"p":-0.006,"m":-1.26,"s":44},{"p":-0.0056,"m":-0.88,"s":44},{"p":-0.0052,"m":-1.35,"s":44},{"p":-0.0048,"m":-1.06,"s":44},{"p":-0.0044,"m":-1.38,"s":44},{"p":-0.004,"m":-0.93,"s":44},{"p":-0.0036,"m":-1.11,"s":44},{"p":-0.0032,"m":-0.81,"s":44},
{"p":-0.0498,"m":-2.52,"s":44},{"p":-0.049,"m":-2.21,"s":44},{"p":-0.0482,"m":-1.75,"s":44},{"p":-0.0474,"m":-2.27,"s":44},{"p":-0.0466,"m":-1.87,"s":44},{"p":-0.0458,"m":-2.04,"s":44},{"p":-0.045,"m":-2.16,"s":44},{"p":-0.0442,"m":-1.99,"s":44},{"p":-0.0434,"m":-1.99,"s":44},{"p":-0.0426,"m":-2.16,"s":44},{"p":-0.0418,"m":-1.96,"s":44},{"p":-0.041,"m":-2.38,"s":44},{"p":-0.0402,"m":-2.08,"s":44},{"p":-0.0394,"m":-2.32,"s":44},{"p":-0.0386,"m":-1.99,"s":44},{"p":-0.0378,"m":-2.23,"s":44},{"p":-0.037,"m":-2.59,"s":44},{"p":-0.0362,"m":-2.60,"s":44},{"p":-0.0354,"m":-2.10,"s":44},{"p":-0.0346,"m":-2.69,"s":44},{"p":-0.0338,"m":-2.48,"s":44},{"p":-0.033,"m":-2.31,"s":44},{"p":-0.0322,"m":-2.19,"s":44},{"p":-0.0314,"m":-2.69,"s":44},{"p":-0.0306,"m":-2.48,"s":44},{"p":-0.0298,"m":-2.39,"s":44},{"p":-0.029,"m":-2.52,"s":44},{"p":-0.0282,"m":-2.61,"s":44},{"p":-0.0274,"m":-2.60,"s":44},{"p":-0.0266,"m":-2.52,"s":44},{"p":-0.0258,"m":-3.08,"s":44},{"p":-0.025,"m":-2.77,"s":44},{"p":-0.0242,"m":-2.77,"s":44},{"p":-0.0234,"m":-3.20,"s":44},{"p":-0.0226,"m":-2.98,"s":44},{"p":-0.0218,"m":-2.90,"s":44},{"p":-0.021,"m":-3.03,"s":44},{"p":-0.0202,"m":-2.98,"s":44},{"p":-0.0194,"m":-2.84,"s":44},{"p":-0.0186,"m":-2.74,"s":44},{"p":-0.0178,"m":-2.72,"s":44},{"p":-0.017,"m":-2.27,"s":44},{"p":-0.0162,"m":-2.10,"s":44},{"p":-0.0154,"m":-2.10,"s":44},{"p":-0.0146,"m":-1.72,"s":44},{"p":-0.0138,"m":-1.76,"s":44},{"p":-0.013,"m":-1.49,"s":44},{"p":-0.0122,"m":-1.46,"s":44},{"p":-0.0114,"m":-1.52,"s":44},{"p":-0.0106,"m":-1.37,"s":44},{"p":-0.0098,"m":-1.86,"s":44},{"p":-0.009,"m":-1.52,"s":44},{"p":-0.0082,"m":-1.02,"s":44},{"p":-0.0074,"m":-1.52,"s":44},{"p":-0.0066,"m":-1.11,"s":44},{"p":-0.0058,"m":-1.25,"s":44},{"p":-0.005,"m":-1.31,"s":44},{"p":-0.0042,"m":-1.09,"s":44},{"p":-0.0034,"m":-1.00,"s":44},
{"p":-0.00283,"m":2.23,"s":44},{"p":-0.00266,"m":11.3,"s":44},{"p":-0.00249,"m":24.8,"s":44},{"p":-0.00233,"m":39.3,"s":44},{"p":-0.00216,"m":55,"s":44},{"p":-0.00199,"m":73,"s":44},{"p":-0.00183,"m":91.4,"s":44},{"p":-0.00166,"m":110.8,"s":44},{"p":-0.00149,"m":131.2,"s":44},{"p":-0.00133,"m":150.4,"s":44},{"p":-0.00116,"m":171.2,"s":44},{"p":-0.00099,"m":193.3,"s":44},{"p":-0.00083,"m":214,"s":44},{"p":-0.00066,"m":235.6,"s":44},{"p":-0.00049,"m":248.6,"s":44},{"p":-0.00032,"m":259,"s":44},{"p":-0.00016,"m":265.2,"s":44},{"p":0.00001,"m":268,"s":44},{"p":0.00017,"m":264.3,"s":44},{"p":0.00034,"m":255.7,"s":44},{"p":0.00051,"m":244.1,"s":44},{"p":0.00067,"m":228.3,"s":44},{"p":0.00084,"m":207.8,"s":44},{"p":0.00101,"m":185.6,"s":44},{"p":0.00117,"m":163.9,"s":44},{"p":0.00134,"m":141.8,"s":44},{"p":0.00151,"m":119.7,"s":44},{"p":0.00167,"m":98.9,"s":44},{"p":0.00184,"m":78.6,"s":44},{"p":0.00201,"m":61.1,"s":44},{"p":0.00217,"m":46.5,"s":44},{"p":0.00234,"m":34,"s":44},{"p":0.00251,"m":22.4,"s":44},{"p":0.00267,"m":12.2,"s":44},{"p":0.00284,"m":4.2,"s":44},
{"p":0.0032,"m":-0.55,"s":44},{"p":0.0036,"m":-1.51,"s":44},{"p":0.004,"m":-1.05,"s":44},{"p":0.0044,"m":-1.15,"s":44},{"p":0.0048,"m":-1.36,"s":44},{"p":0.0052,"m":-0.97,"s":44},{"p":0.0056,"m":-1.36,"s":44},{"p":0.006,"m":-1.09,"s":44},{"p":0.0064,"m":-1.32,"s":44},{"p":0.0068,"m":-1.55,"s":44},{"p":0.0072,"m":-0.97,"s":44},{"p":0.0076,"m":-1.28,"s":44},{"p":0.008,"m":-1.49,"s":44},{"p":0.0084,"m":-1.15,"s":44},{"p":0.0088,"m":-1.67,"s":44},{"p":0.0092,"m":-1.39,"s":44},{"p":0.0096,"m":-1.27,"s":44},{"p":0.01,"m":-1.50,"s":44},{"p":0.0104,"m":-1.77,"s":44},{"p":0.0108,"m":-1.25,"s":44},{"p":0.0112,"m":-1.34,"s":44},{"p":0.0116,"m":-1.63,"s":44},{"p":0.012,"m":-1.14,"s":44},{"p":0.0124,"m":-1.49,"s":44},{"p":0.0128,"m":-1.33,"s":44},{"p":0.0132,"m":-1.71,"s":44},{"p":0.0136,"m":-2.05,"s":44},{"p":0.014,"m":-1.22,"s":44},{"p":0.0144,"m":-1.61,"s":44},{"p":0.0148,"m":-1.47,"s":44},{"p":0.0152,"m":-1.13,"s":44},{"p":0.0156,"m":-1.59,"s":44},{"p":0.016,"m":-1.31,"s":44},{"p":0.0164,"m":-1.35,"s":44},{"p":0.0168,"m":-1.69,"s":44},{"p":0.0172,"m":-1.43,"s":44},{"p":0.0176,"m":-1.20,"s":44},{"p":0.018,"m":-1.57,"s":44},{"p":0.0184,"m":-1.82,"s":44},{"p":0.0188,"m":-1.32,"s":44},{"p":0.0192,"m":-1.47,"s":44},{"p":0.0196,"m":-1.64,"s":44},{"p":0.02,"m":-1.26,"s":44},{"p":0.0204,"m":-1.54,"s":44},{"p":0.0208,"m":-1.19,"s":44},{"p":0.0212,"m":-1.69,"s":44},{"p":0.0216,"m":-1.42,"s":44},
{"p":0.022,"m":-2.12,"s":44},{"p":0.0224,"m":-1.35,"s":44},{"p":0.0228,"m":-1.56,"s":44},{"p":0.0232,"m":-2.13,"s":44},{"p":0.0236,"m":-1.88,"s":44},{"p":0.024,"m":-1.40,"s":44},{"p":0.0244,"m":-1.47,"s":44},{"p":0.0248,"m":-1.66,"s":44},{"p":0.0252,"m":-1.23,"s":44},{"p":0.0256,"m":-1.60,"s":44},{"p":0.026,"m":-1.30,"s":44},{"p":0.0264,"m":-1.51,"s":44},{"p":0.0268,"m":-1.73,"s":44},{"p":0.0272,"m":-0.80,"s":44},{"p":0.0276,"m":-1.42,"s":44},{"p":0.028,"m":-1.62,"s":44},{"p":0.0284,"m":-1.27,"s":44},{"p":0.0288,"m":-1.78,"s":44},{"p":0.0292,"m":-1.48,"s":44},{"p":0.0296,"m":-0.72,"s":44},{"p":0.03,"m":-1.56,"s":44},{"p":0.0304,"m":-1.82,"s":44},{"p":0.0308,"m":-1.28,"s":44},{"p":0.0312,"m":-1.37,"s":44},{"p":0.0316,"m":-1.65,"s":44},{"p":0.032,"m":-1.14,"s":44},{"p":0.0324,"m":-1.48,"s":44},{"p":0.0328,"m":-1.31,"s":44},{"p":0.0332,"m":-1.68,"s":44},{"p":0.0336,"m":-1.37,"s":44},{"p":0.034,"m":-1.17,"s":44},{"p":0.0344,"m":-1.54,"s":44},{"p":0.0348,"m":-1.39,"s":44},{"p":0.0352,"m":-1.05,"s":44},{"p":0.0356,"m":-1.49,"s":44},{"p":0.036,"m":-1.20,"s":44},{"p":0.0364,"m":-1.23,"s":44},{"p":0.0368,"m":-1.55,"s":44},{"p":0.0372,"m":-1.28,"s":44},{"p":0.0376,"m":-1.05,"s":44},{"p":0.038,"m":-1.41,"s":44},{"p":0.0384,"m":-1.64,"s":44},{"p":0.0388,"m":-1.13,"s":44},{"p":0.0392,"m":-1.28,"s":44},{"p":0.0396,"m":-1.43,"s":44},{"p":0.04,"m":-1.04,"s":44},
{"p":0.0036,"m":-1.22,"s":44},{"p":0.0044,"m":-1.03,"s":44},{"p":0.0052,"m":-1.47,"s":44},{"p":0.006,"m":-1.19,"s":44},{"p":0.0068,"m":-1.43,"s":44},{"p":0.0076,"m":-1.11,"s":44},{"p":0.0084,"m":-1.34,"s":44},{"p":0.0092,"m":-1.69,"s":44},{"p":0.01,"m":-1.68,"s":44},{"p":0.0108,"m":-1.15,"s":44},{"p":0.0116,"m":-1.70,"s":44},{"p":0.0124,"m":-1.46,"s":44},{"p":0.0132,"m":-1.27,"s":44},{"p":0.014,"m":-1.12,"s":44},{"p":0.0148,"m":-1.60,"s":44},{"p":0.0156,"m":-1.37,"s":44},{"p":0.0164,"m":-1.25,"s":44},{"p":0.0172,"m":-1.37,"s":44},{"p":0.018,"m":-1.43,"s":44},{"p":0.0188,"m":-1.41,"s":44},{"p":0.0196,"m":-1.31,"s":44},{"p":0.0204,"m":-1.85,"s":44},{"p":0.0212,"m":-1.51,"s":44},{"p":0.022,"m":-1.48,"s":44},{"p":0.0228,"m":-1.88,"s":44},{"p":0.0236,"m":-1.63,"s":44},{"p":0.0244,"m":-1.55,"s":44},{"p":0.0252,"m":-1.70,"s":44},{"p":0.026,"m":-1.68,"s":44},{"p":0.0268,"m":-1.60,"s":44},{"p":0.0276,"m":-1.57,"s":44},{"p":0.0284,"m":-1.64,"s":44},{"p":0.0292,"m":-1.32,"s":44},{"p":0.03,"m":-1.27,"s":44},{"p":0.0308,"m":-1.39,"s":44},{"p":0.0316,"m":-1.15,"s":44},{"p":0.0324,"m":-1.31,"s":44},{"p":0.0332,"m":-1.11,"s":44},{"p":0.034,"m":-1.14,"s":44},{"p":0.0348,"m":-1.24,"s":44},{"p":0.0356,"m":-1.14,"s":44},{"p":0.0364,"m":-1.68,"s":44},{"p":0.0372,"m":-1.39,"s":44},{"p":0.038,"m":-0.96,"s":44},{"p":0.0388,"m":-1.50,"s":44},{"p":0.0396,"m":-1.13,"s":44}
]
},
"bounds":"flush",
"spacing":398.4,
"resolve":{"scale":{"color":"independent","opacity":"independent","size":"independent"},"legend":{"color":"independent","opacity":"independent","size":"independent"}},
"vconcat":[
 {
  "hconcat":[
   {
    "width":300,"height":275,
    "view":{"stroke":null},
    "layer":[
     {
      "data":{"name":"lc"},
      "transform":[{"filter":"datum.t < 60000"}],
      "mark":{"type":"point","filled":true,"size":22,"opacity":1},
      "encoding":{
       "x":{"field":"t","type":"quantitative","scale":{"domain":[59490,59580],"nice":false,"zero":false},
            "axis":{"values":[59490,59525,59560],"format":"d","title":"Time [BJD-2400000, days]","titleX":269.35,"titleAlign":"center","labelPadding":10,"titlePadding":14}},
       "y":{"field":"m","type":"quantitative","scale":{"domain":[-17.9,282],"reverse":true,"nice":false,"zero":false},
            "axis":{"values":[0,50,100,150,200,250],"title":"Magnitude [mmag]","titlePadding":26}},
       "color":{"field":"s","type":"nominal","scale":{"domain":[44,45,71,72],"range":["#1a1a1a","#c44e52","#1a1a1a","#c44e52"]},
            "legend":{"title":null,"orient":"none","legendX":99.3,"legendY":208,"values":[44,45],"symbolSize":16,"symbolOffset":7,"labelOffset":18,"labelExpr":"datum.value == 44 ? 'Sectors 44, 71' : 'Sectors 45, 72'"}}
      }
     },
     {
      "data":{"values":[{}]},
      "mark":{"type":"rule","color":"black","strokeWidth":2,"clip":false},
      "encoding":{"x":{"datum":59577.75},"x2":{"datum":59582.25},"y":{"datum":289.6},"y2":{"datum":274.4}}
     }
    ]
   },
   {
    "width":190,"height":275,
    "view":{"stroke":null},
    "layer":[
     {
      "data":{"name":"lc"},
      "transform":[{"filter":"datum.t > 60000"}],
      "mark":{"type":"point","filled":true,"size":22,"opacity":1},
      "encoding":{
       "x":{"field":"t","type":"quantitative","scale":{"domain":[60233,60300],"nice":false,"zero":false},
            "axis":{"values":[60233,60266,60300],"format":"d","title":null,"labelPadding":10}},
       "y":{"field":"m","type":"quantitative","scale":{"domain":[-17.9,282],"reverse":true,"nice":false,"zero":false},"axis":null},
       "color":{"field":"s","type":"nominal","scale":{"domain":[44,45,71,72],"range":["#1a1a1a","#c44e52","#1a1a1a","#c44e52"]},"legend":null}
      }
     },
     {
      "data":{"values":[{}]},
      "mark":{"type":"rule","color":"black","strokeWidth":2,"clip":false},
      "encoding":{"x":{"datum":60230.36},"x2":{"datum":60235.64},"y":{"datum":289.6},"y2":{"datum":274.4}}
     }
    ]
   }
  ],
  "bounds":"flush",
  "spacing":48.7,
  "resolve":{"scale":{"color":"independent","y":"independent"},"legend":{"color":"independent"}}
 },
 {
  "vconcat":[
   {
    "width":538.7,"height":321.6,
    "title":{"text":"Period: 41.564 days","fontSize":19,"fontWeight":"bold","baseline":"alphabetic","offset":-8.6,"anchor":"middle","frame":"group","color":"black"},
    "data":{"name":"ph"},
    "mark":{"type":"point","filled":true,"clip":true},
    "encoding":{
     "x":{"field":"p","type":"quantitative","scale":{"domain":[-0.05,0.04],"nice":false,"zero":false},
          "axis":{"values":[-0.05,-0.04,-0.03,-0.02,-0.01,0,0.01,0.02,0.03,0.04],"labels":false,"title":null}},
     "y":{"field":"m","type":"quantitative","scale":{"domain":[-17.8,282.6],"reverse":true,"nice":false,"zero":false},
          "axis":{"values":[0,50,100,150,200,250],"title":"Magnitude [mmags]","titlePadding":9}},
     "color":{"field":"s","type":"ordinal","scale":{"domain":[44,71],"range":["#111111","#111111"]},"legend":{"title":null,"orient":"bottom-left","offset":9,"symbolOffset":8,"labelOffset":16,"labelExpr":"'Sector ' + datum.label"}},
     "opacity":{"field":"s","type":"ordinal","scale":{"domain":[44,71],"range":[0.95,0.48]},"legend":{"title":null,"orient":"bottom-left","offset":9,"symbolOffset":8,"labelOffset":16,"labelExpr":"'Sector ' + datum.label"}},
     "size":{"field":"s","type":"ordinal","scale":{"domain":[44,71],"range":[16,24]},"legend":{"title":null,"orient":"bottom-left","offset":9,"symbolOffset":8,"labelOffset":16,"labelExpr":"'Sector ' + datum.label"}}
    }
   },
   {
    "width":538.7,"height":320.4,
    "data":{"name":"ph"},
    "mark":{"type":"point","filled":true,"clip":true},
    "encoding":{
     "x":{"field":"p","type":"quantitative","scale":{"domain":[-0.05,0.04],"nice":false,"zero":false},
          "axis":{"values":[-0.05,-0.04,-0.03,-0.02,-0.01,0,0.01,0.02,0.03,0.04],"format":".2f","title":"Rotation Phase","labelPadding":6,"titlePadding":9.5}},
     "y":{"field":"m","type":"quantitative","scale":{"domain":[-5,2.5],"reverse":true,"nice":false,"zero":false},
          "axis":{"values":[-5,-4,-3,-2,-1,0,1,2],"format":"d","title":"Magnitude [mmags]","titlePadding":10}},
     "color":{"field":"s","type":"ordinal","scale":{"domain":[44,71],"range":["#111111","#111111"]},"legend":null},
     "opacity":{"field":"s","type":"ordinal","scale":{"domain":[44,71],"range":[0.95,0.48]},"legend":null},
     "size":{"field":"s","type":"ordinal","scale":{"domain":[44,71],"range":[16,24]},"legend":null}
    }
   }
  ],
  "bounds":"flush",
  "spacing":31,
  "resolve":{"scale":{"color":"independent","opacity":"independent","size":"independent"},"legend":{"color":"independent","opacity":"independent","size":"independent"}}
 }
]
}
